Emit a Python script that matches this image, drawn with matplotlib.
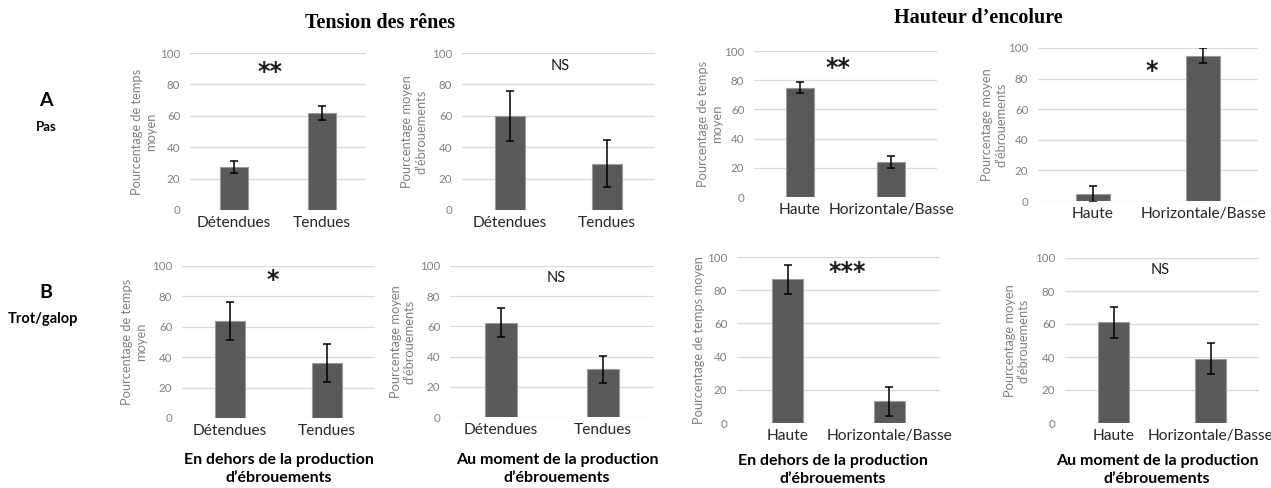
import matplotlib.pyplot as plt
import numpy as np

plt.rcParams['font.family'] = ['Lato', 'DejaVu Sans']

W, H = 1271, 488

# =====================================================
# DATA
# =====================================================

cats_tension = ["Détendues", "Tendues"]
cats_hauteur = ["Haute", "Horizontale/Basse"]

# row A : Pas
a_tension_temps = [27.5, 62]
a_tension_temps_err = [3.75, 4.5]
a_tension_ebr = [60, 29.5]
a_tension_ebr_err = [16, 15]
a_hauteur_temps = [75, 24]
a_hauteur_temps_err = [4, 4]
a_hauteur_ebr = [4.5, 95]
a_hauteur_ebr_err = [5, 5]

# row B : Trot/galop
b_tension_temps = [63.5, 36]
b_tension_temps_err = [12.5, 12.5]
b_tension_ebr = [62.5, 31.5]
b_tension_ebr_err = [9.5, 9]
b_hauteur_temps = [86.5, 13]
b_hauteur_temps_err = [8.75, 8.75]
b_hauteur_ebr = [61, 39]
b_hauteur_ebr_err = [9.5, 9.5]

lab_temps = "Pourcentage de temps\nmoyen"
lab_temps_1 = "Pourcentage de temps moyen"
lab_ebr = "Pourcentage moyen\nd’ébrouements"
bottom_out = "En dehors de la production\nd’ébrouements"
bottom_in = "Au moment de la production\nd’ébrouements"

# =====================================================
# PANELS  (pixel layout: left, right, y of 0, y of 100)
# =====================================================

panels = [
    (cats_tension, a_tension_temps, a_tension_temps_err, (190, 366, 210, 53), lab_temps, 144, "**", (270, 72)),
    (cats_tension, a_tension_ebr, a_tension_ebr_err, (462, 655, 210, 53), lab_ebr, 414, "NS", (560, 66)),
    (cats_hauteur, a_hauteur_temps, a_hauteur_temps_err, (754, 937, 197, 51), lab_temps, 710, "**", (838, 68)),
    (cats_hauteur, a_hauteur_ebr, a_hauteur_ebr_err, (1038, 1258, 201, 48), lab_ebr, 994, "*", (1152, 71)),
    (cats_tension, b_tension_temps, b_tension_temps_err, (182, 375, 418, 266), lab_temps, 134, "*", (273, 280)),
    (cats_tension, b_tension_ebr, b_tension_ebr_err, (450, 654, 417, 266), lab_ebr, 403, "NS", (556, 278)),
    (cats_hauteur, b_hauteur_temps, b_hauteur_temps_err, (737, 940, 423, 257), lab_temps_1, 699, "***", (847, 272)),
    (cats_hauteur, b_hauteur_ebr, b_hauteur_ebr_err, (1065, 1259, 423, 258), lab_ebr, 1017, "NS", (1160, 270)),
]

fig = plt.figure(figsize=(W / 100, H / 100), dpi=100)


def fx(px):
    return px / W


def fy(py):
    return 1 - py / H


for cats, vals, errs, box, ylab, ylab_x, sig, sig_xy in panels:
    x0, x1, y0, y100 = box
    ax = fig.add_axes([fx(x0), fy(y0), (x1 - x0) / W, (y0 - y100) / H])
    x = np.arange(len(cats))
    ax.bar(x, vals, 0.31, color="#595959", edgecolor="#9a9a9a", linewidth=0.8, zorder=3)
    ax.errorbar(x, vals, yerr=errs, fmt="none", ecolor="black", elinewidth=1.1,
                capsize=3, capthick=1.1, zorder=4)
    ax.set_xlim(-0.5, 1.5)
    ax.set_ylim(0, 100)
    ax.set_yticks(range(0, 101, 20))
    ax.set_xticks(x)
    ax.set_xticklabels(cats, fontsize=11.2, color="#262626")
    ax.tick_params(axis="y", length=0, pad=7, labelsize=8.3, labelcolor="#808080")
    ax.tick_params(axis="x", length=0, pad=4)
    ax.grid(axis="y", color="#d9d9d9", linewidth=0.9, zorder=0)
    for s in ax.spines.values():
        s.set_visible(False)
    ax.set_axisbelow(True)

    fig.text(fx(ylab_x), fy((y0 + y100) / 2), ylab, rotation=90, ha="center", va="center",
             multialignment="center", fontsize=9.3, color="#808080")
    if "*" in sig:
        fig.text(fx(sig_xy[0]), fy(sig_xy[1]), sig, ha="center", va="center",
                 fontsize=17, fontweight="bold", color="#1a1a1a", family=["DejaVu Sans"])
    else:
        fig.text(fx(sig_xy[0]), fy(sig_xy[1]), sig, ha="center", va="center",
                 fontsize=10.5, color="#1a1a1a")

# titles
fig.text(fx(380), fy(23), "Tension des rênes", ha="center", va="center",
         fontsize=14.5, fontweight="bold", family=["Liberation Serif"])
fig.text(fx(978), fy(18), "Hauteur d’encolure", ha="center", va="center",
         fontsize=14.5, fontweight="bold", family=["Liberation Serif"])

# row labels
fig.text(fx(46), fy(100), "A", ha="center", va="center", fontsize=14, fontweight="bold")
fig.text(fx(46), fy(127), "Pas", ha="center", va="center", fontsize=9.5, fontweight="bold")
fig.text(fx(46), fy(292), "B", ha="center", va="center", fontsize=14, fontweight="bold")
fig.text(fx(43), fy(319), "Trot/galop", ha="center", va="center", fontsize=10.5, fontweight="bold")

# bottom labels
for cx, cy, txt in [(279, 469, bottom_out), (557, 469, bottom_in),
                    (833, 470, bottom_out), (1157, 470, bottom_in)]:
    fig.text(fx(cx), fy(cy), txt, ha="center", va="center", multialignment="center",
             fontsize=11.5, fontweight="bold", linespacing=1.45)

fig.savefig("out.png", dpi=100)
